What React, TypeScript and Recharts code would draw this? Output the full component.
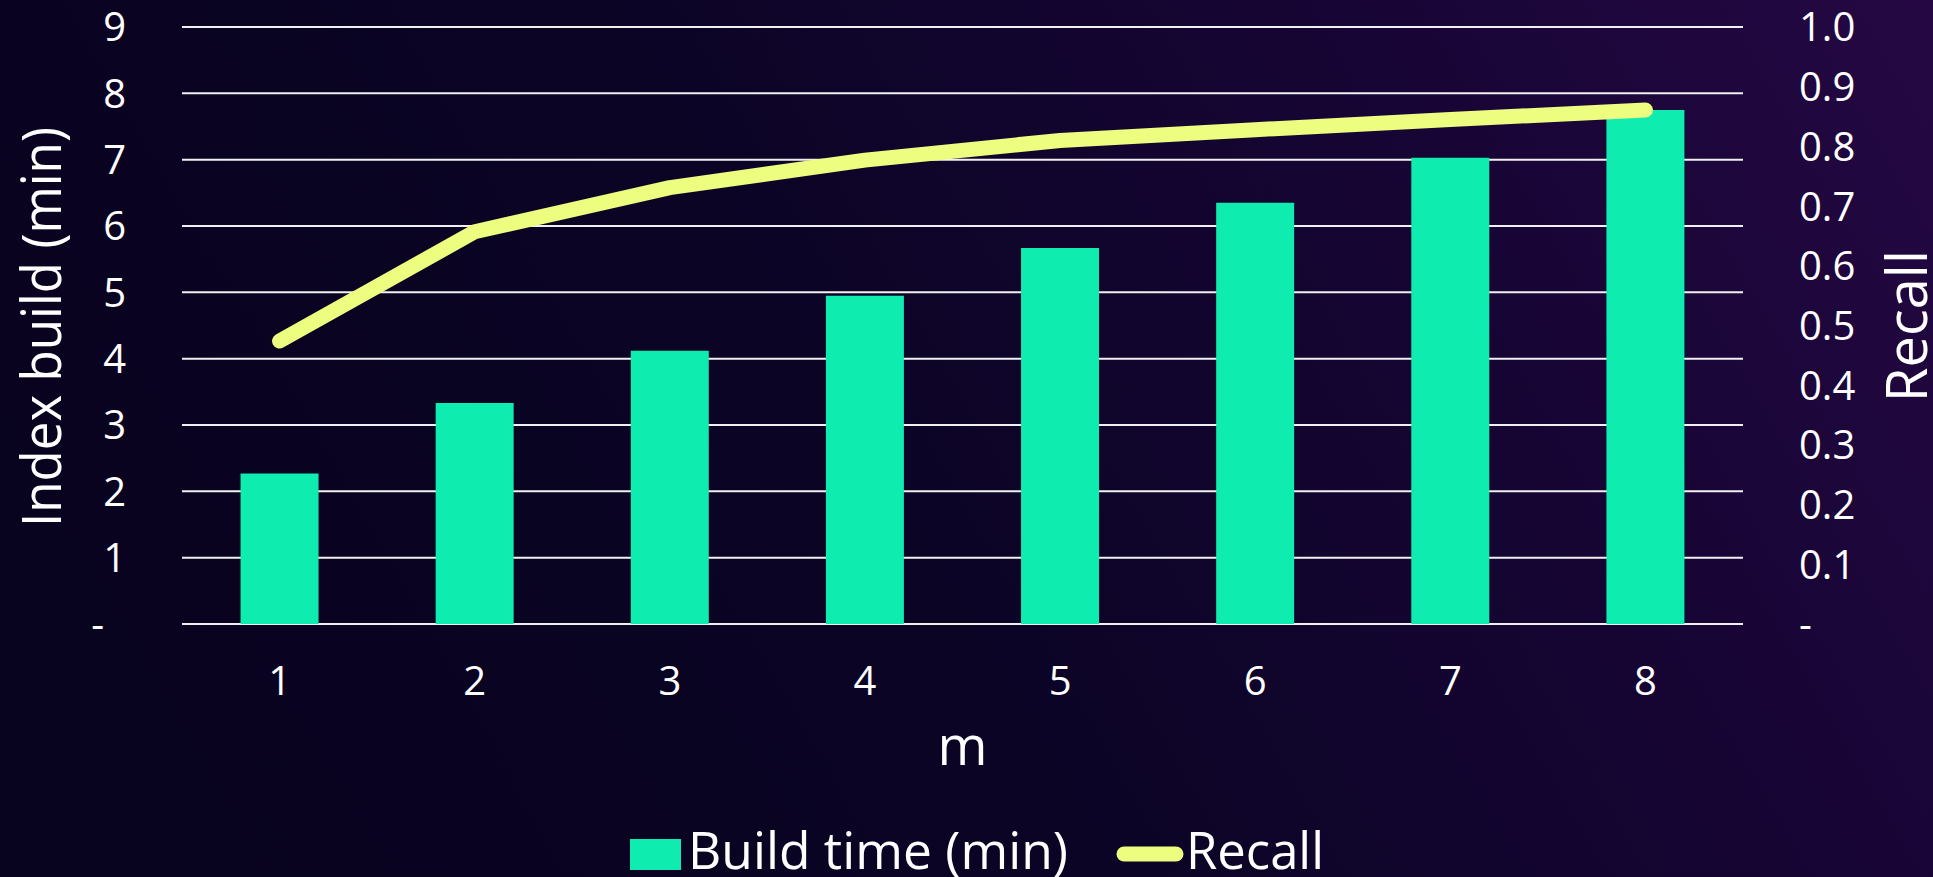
import { ComposedChart, Bar, Line, XAxis, YAxis, CartesianGrid, Legend, Label } from 'recharts';

const categories = ['1', '2', '3', '4', '5', '6', '7', '8'];
const buildTime = [2.27, 3.33, 4.12, 4.95, 5.67, 6.35, 7.03, 7.75];
const recall = [0.474, 0.657, 0.731, 0.777, 0.81, 0.828, 0.845, 0.861];

const leftTicks = [0, 1, 2, 3, 4, 5, 6, 7, 8, 9];
const rightTicks = [0, 0.1, 0.2, 0.3, 0.4, 0.5, 0.6, 0.7, 0.8, 0.9, 1.0];

const seriesNames = ['Build time (min)', 'Recall'];

const W = 1933;
const H = 877;
const FONT = '"Open Sans", sans-serif';
const BAR_COLOR = '#0fecb0';
const LINE_COLOR = '#edfd7f';

const chartData = categories.map((m, i) => ({
  m,
  build: buildTime[i],
  recall: recall[i],
}));

function LeftTick(props: any) {
  const { x, y, payload } = props;
  const zero = payload.value === 0;
  return (
    <text x={x - (zero ? 76 : 54)} y={y} dy="0.36em" textAnchor="end" fill="#fff" fontSize={40} fontFamily={FONT}>
      {zero ? '-' : payload.value}
    </text>
  );
}

function RightTick(props: any) {
  const { x, y, payload } = props;
  const v = payload.value as number;
  return (
    <text x={x + 54} y={y} dy="0.36em" textAnchor="start" fill="#fff" fontSize={40} fontFamily={FONT}>
      {v === 0 ? '-' : v.toFixed(1)}
    </text>
  );
}

function XTick(props: any) {
  const { x, y, payload } = props;
  return (
    <text x={x} y={y + 69} textAnchor="middle" fill="#fff" fontSize={40} fontFamily={FONT}>
      {payload.value}
    </text>
  );
}

function LegendContent() {
  return (
    <svg width={W} height={77} style={{ display: 'block' }}>
      <rect x={630} y={39} width={51} height={31} fill={BAR_COLOR} />
      <text x={688} y={69} fontSize={52} textLength={380} lengthAdjust="spacingAndGlyphs" fill="#fff" fontFamily={FONT}>
        {seriesNames[0]}
      </text>
      <line x1={1124} x2={1176} y1={54} y2={54} stroke={LINE_COLOR} strokeWidth={15} strokeLinecap="round" />
      <text x={1186} y={69} fontSize={52} textLength={138} lengthAdjust="spacingAndGlyphs" fill="#fff" fontFamily={FONT}>
        {seriesNames[1]}
      </text>
    </svg>
  );
}

export default function App() {
  return (
    <div
      style={{
        position: 'absolute',
        left: 0,
        top: 0,
        width: W,
        height: H,
        background: 'linear-gradient(60deg, #08031e 0%, #0b0425 45%, #180536 78%, #250843 100%)',
      }}
    >
      <ComposedChart
        width={W}
        height={H}
        data={chartData}
        margin={{ top: 27, right: 0, left: 0, bottom: 153 }}
        barCategoryGap="30%"
      >
        <CartesianGrid yAxisId="left" vertical={false} stroke="#f0f0f0" strokeWidth={2} />
        <XAxis dataKey="m" height={100} axisLine={false} tickLine={false} tickSize={0} tick={(p: any) => <XTick {...p} />}>
          <Label
            content={(p: any) => {
              const vb = p.viewBox || { x: 182, y: 624, width: 1561 };
              return (
                <text x={vb.x + vb.width / 2} y={765} textAnchor="middle" fill="#fff" fontSize={54} fontFamily={FONT}>
                  m
                </text>
              );
            }}
          />
        </XAxis>
        <YAxis
          yAxisId="left"
          domain={[0, 9]}
          ticks={leftTicks}
          interval={0}
          width={182}
          axisLine={false}
          tickLine={false}
          tickSize={0}
          tick={(p: any) => <LeftTick {...p} />}
        >
          <Label
            content={() => (
              <text
                x={61}
                y={327}
                transform="rotate(-90 61 327)"
                textAnchor="middle"
                fill="#fff"
                fontSize={55}
                textLength={400}
                lengthAdjust="spacingAndGlyphs"
                fontFamily={FONT}
              >
                Index build (min)
              </text>
            )}
          />
        </YAxis>
        <YAxis
          yAxisId="right"
          orientation="right"
          domain={[0, 1]}
          ticks={rightTicks}
          interval={0}
          width={190}
          axisLine={false}
          tickLine={false}
          tickSize={0}
          tick={(p: any) => <RightTick {...p} />}
        >
          <Label
            content={() => (
              <text
                x={1927}
                y={326}
                transform="rotate(-90 1927 326)"
                textAnchor="middle"
                fill="#fff"
                fontSize={56}
                fontFamily={FONT}
              >
                Recall
              </text>
            )}
          />
        </YAxis>
        <Bar yAxisId="left" dataKey="build" name={seriesNames[0]} fill={BAR_COLOR} isAnimationActive={false} />
        <Line
          yAxisId="right"
          type="linear"
          dataKey="recall"
          name={seriesNames[1]}
          stroke={LINE_COLOR}
          strokeWidth={15}
          strokeLinecap="round"
          strokeLinejoin="round"
          dot={false}
          activeDot={false}
          isAnimationActive={false}
        />
        <Legend
          layout="vertical"
          align="center"
          verticalAlign="middle"
          wrapperStyle={{ left: 0, top: 800, width: W, height: 77 }}
          content={() => <LegendContent />}
        />
      </ComposedChart>
    </div>
  );
}
